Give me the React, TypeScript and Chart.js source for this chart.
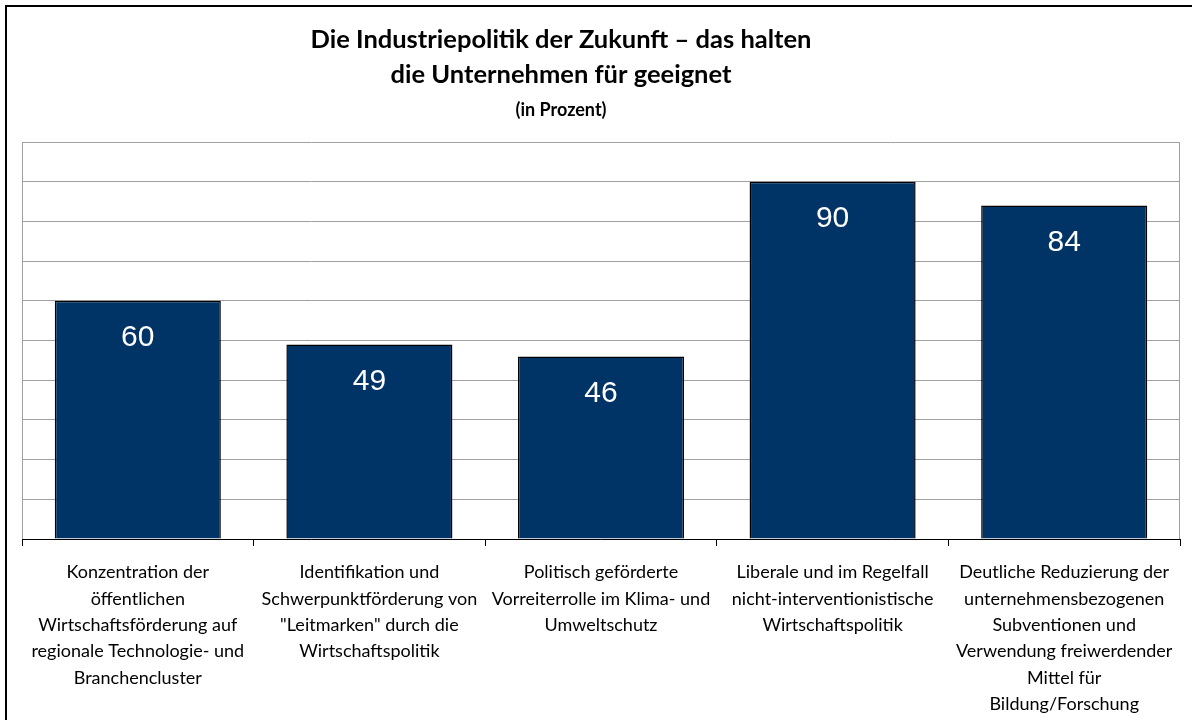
import React, { useEffect, useRef } from "react";
import { Chart, registerables } from "chart.js";

Chart.register(...registerables);

const categories: string[][] = [
  ["Konzentration der", "öffentlichen", "Wirtschaftsförderung auf", "regionale Technologie- und", "Branchencluster"],
  ["Identifikation und", "Schwerpunktförderung von", "\"Leitmarken\" durch die", "Wirtschaftspolitik"],
  ["Politisch geförderte", "Vorreiterrolle im Klima- und", "Umweltschutz"],
  ["Liberale und im Regelfall", "nicht-interventionistische", "Wirtschaftspolitik"],
  ["Deutliche Reduzierung der", "unternehmensbezogenen", "Subventionen und", "Verwendung freiwerdender", "Mittel für", "Bildung/Forschung"],
];
const values: number[] = [60, 49, 46, 90, 84];
const titleLines: string[] = ["Die Industriepolitik der Zukunft – das halten", "die Unternehmen für geeignet"];
const subtitleText = "(in Prozent)";
const yMin = 0;
const yMax = 100;
const yStep = 10;

const FONT = "Lato, 'Open Sans', sans-serif";

const frameLines = {
  id: "frameLines",
  beforeDatasetsDraw(chart: any) {
    const { ctx, chartArea } = chart;
    ctx.save();
    ctx.strokeStyle = "#a0a0a0";
    ctx.lineWidth = 1;
    ctx.beginPath();
    ctx.moveTo(Math.round(chartArea.left) + 0.5, chartArea.top);
    ctx.lineTo(Math.round(chartArea.left) + 0.5, chartArea.bottom);
    ctx.moveTo(Math.round(chartArea.right) - 0.5, chartArea.top);
    ctx.lineTo(Math.round(chartArea.right) - 0.5, chartArea.bottom);
    ctx.stroke();
    ctx.restore();
  },
};

const valueLabels = {
  id: "valueLabels",
  afterDatasetsDraw(chart: any) {
    const { ctx } = chart;
    const meta = chart.getDatasetMeta(0);
    ctx.save();
    ctx.fillStyle = "#ffffff";
    ctx.font = "normal 30px 'Liberation Sans', Arial, sans-serif";
    ctx.textAlign = "center";
    ctx.textBaseline = "middle";
    meta.data.forEach((el: any, i: number) => {
      ctx.fillText(String(values[i]), el.x, el.y + 37);
    });
    ctx.restore();
  },
};

// Title is centred left of the plot centre in the reference, so draw it here
const titleBlock = {
  id: "titleBlock",
  afterDraw(chart: any) {
    const { ctx } = chart;
    const cx = 561;
    ctx.save();
    ctx.fillStyle = "#000";
    ctx.textAlign = "center";
    ctx.textBaseline = "middle";
    ctx.font = `bold 25.5px ${FONT}`;
    titleLines.forEach((t, i) => ctx.fillText(t, cx, 40 + i * 35));
    ctx.font = `bold 18px ${FONT}`;
    ctx.fillText(subtitleText, cx, 110);
    ctx.restore();
  },
};

export default function App() {
  const ref = useRef<HTMLCanvasElement>(null);
  useEffect(() => {
    document.body.style.margin = "0";
    const chart = new Chart(ref.current!, {
      type: "bar",
      data: {
        labels: categories,
        datasets: [
          {
            data: values,
            backgroundColor: "#003366",
            borderColor: "#000000",
            borderWidth: 1.5,
            categoryPercentage: 1,
            barPercentage: 0.717,
          },
        ],
      },
      options: {
        animation: false,
        responsive: false,
        maintainAspectRatio: false,
        layout: { padding: { left: 22, right: 12, top: 142, bottom: 0 } },
        plugins: {
          legend: { display: false },
          tooltip: { enabled: false },
          title: { display: false },
          subtitle: { display: false },
        },
        scales: {
          x: {
            grid: { display: true, offset: true, drawOnChartArea: false, drawTicks: true, tickLength: 7, color: "#000" },
            border: { display: true, color: "#000", width: 1 },
            ticks: {
              color: "#000",
              autoSkip: false,
              maxRotation: 0,
              minRotation: 0,
              padding: 13,
              font: { family: FONT, size: 18, lineHeight: 1.47 },
            },
            afterFit: (scale: any) => {
              scale.height = 181;
            },
          },
          y: {
            min: yMin,
            max: yMax,
            ticks: { display: false, stepSize: yStep },
            grid: { color: "#a0a0a0", drawTicks: false },
            border: { display: false },
            afterFit: (scale: any) => {
              scale.width = 0;
            },
          },
        },
      },
      plugins: [frameLines, valueLabels, titleBlock],
    });
    return () => chart.destroy();
  }, []);
  return (
    <div style={{ position: "relative", width: 1192, height: 720, overflow: "hidden", background: "#fff" }}>
      <canvas ref={ref} width={1192} height={720} style={{ display: "block" }} />
      <div style={{ position: "absolute", left: 5, top: 5, width: 1400, height: 900, borderLeft: "2px solid #000", borderTop: "2px solid #000", pointerEvents: "none" }} />
    </div>
  );
}
